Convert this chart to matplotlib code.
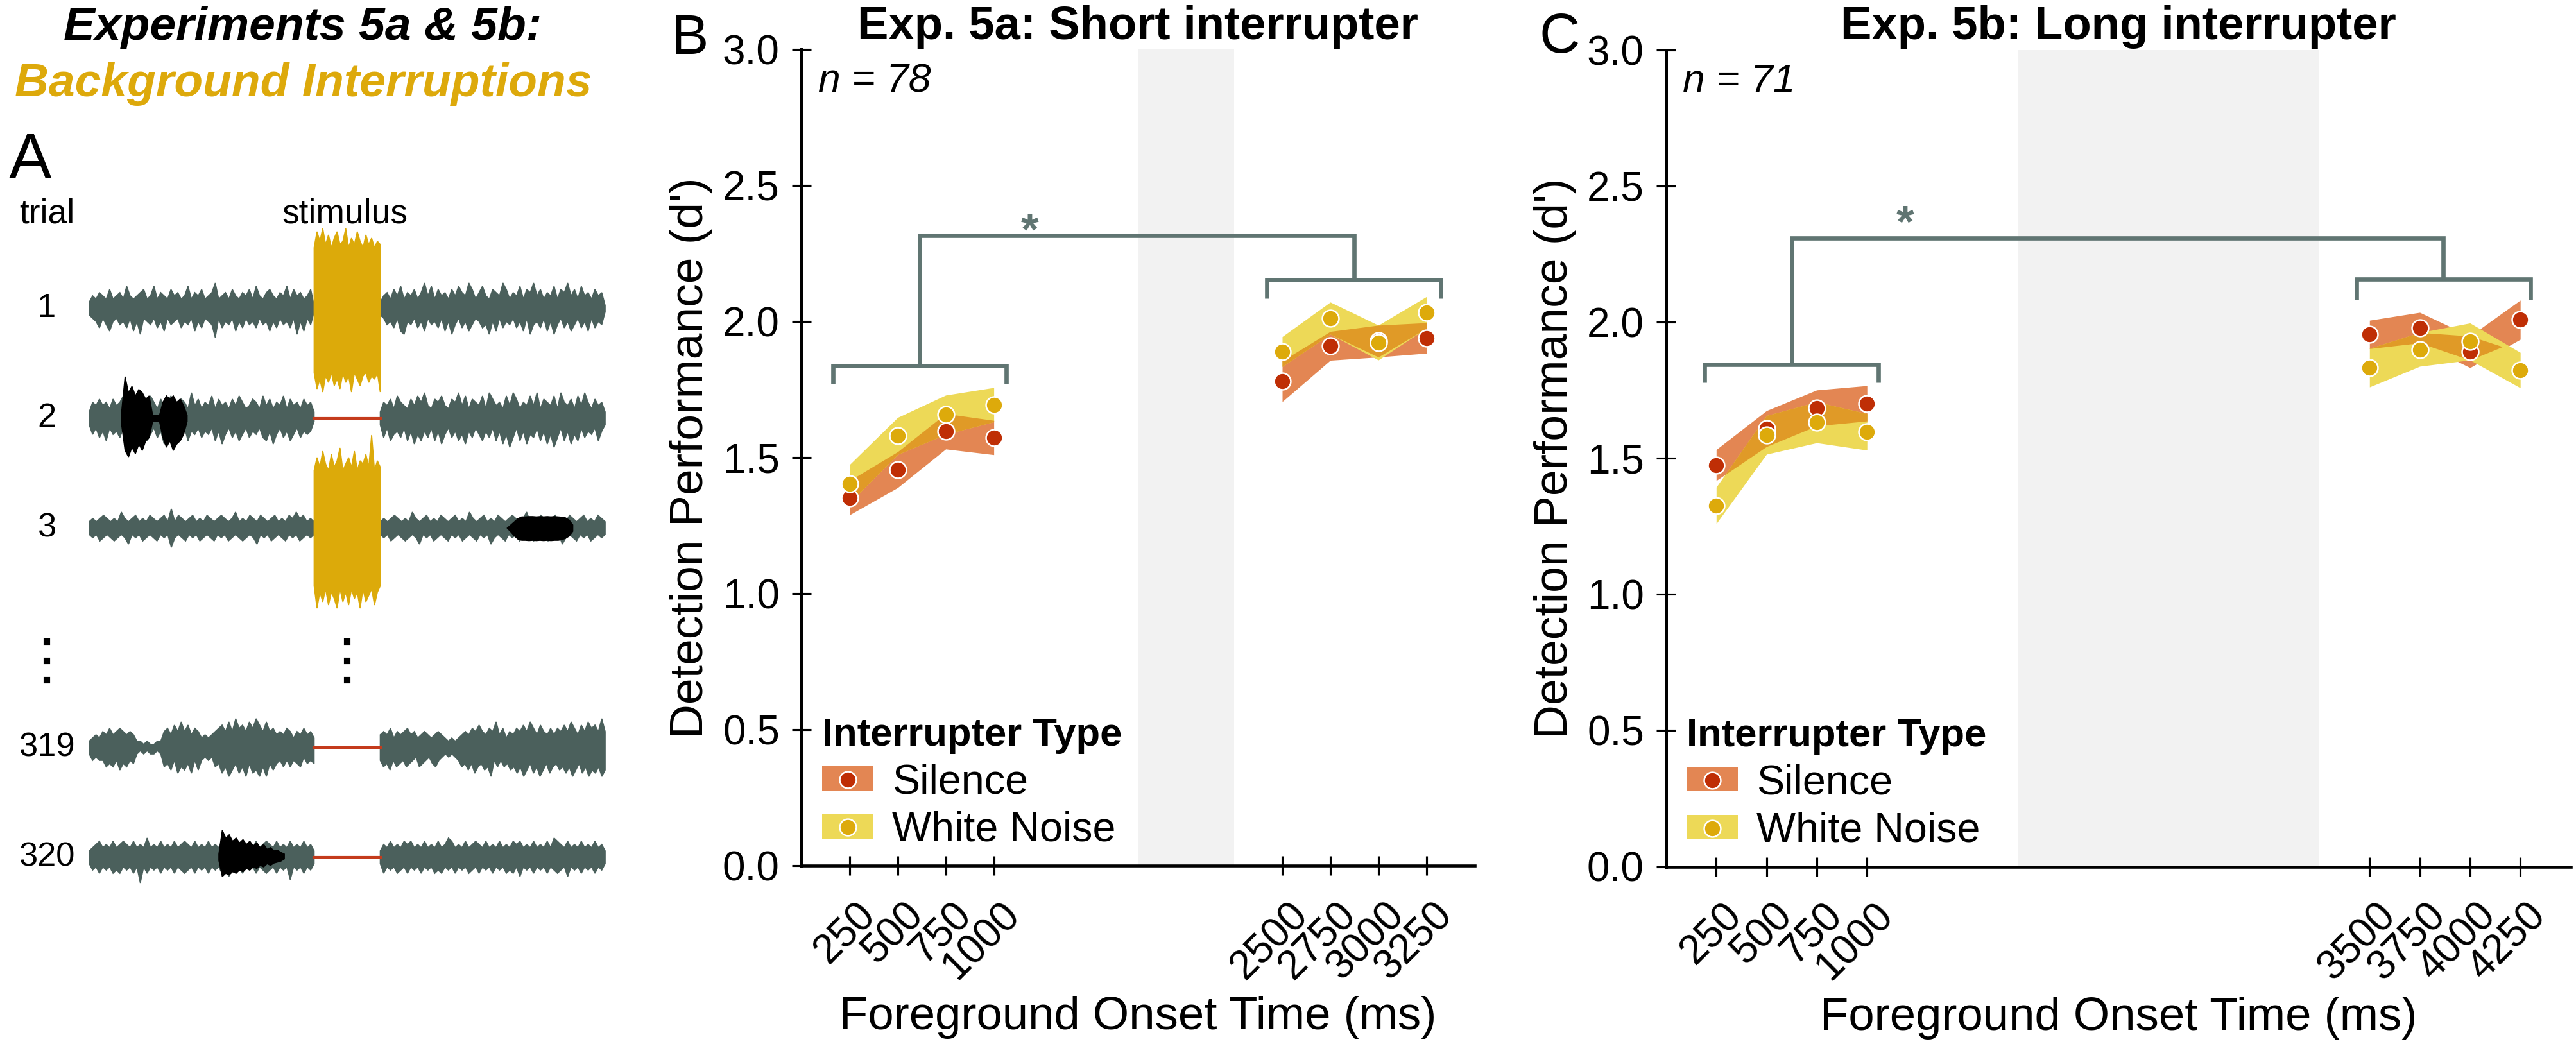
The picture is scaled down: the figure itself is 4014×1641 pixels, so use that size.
import matplotlib
matplotlib.use('Agg')
import matplotlib.pyplot as plt
import matplotlib.transforms as mtransforms
import numpy as np
from matplotlib.patches import Patch
from matplotlib.lines import Line2D
from matplotlib.legend_handler import HandlerTuple

plt.rcParams['font.family'] = ['Liberation Sans', 'DejaVu Sans']

W, H, DPI = 4014, 1641, 300

# ---------------- data: panels B and C ----------------
onsets_5a = [250, 500, 750, 1000, 2500, 2750, 3000, 3250]
onsets_5b = [250, 500, 750, 1000, 3500, 3750, 4000, 4250]
groups = [0, 0, 0, 0, 1, 1, 1, 1]

silence_5a = [1.353, 1.456, 1.597, 1.574, 1.781, 1.911, 1.930, 1.940]
silence_se_5a = [0.063, 0.066, 0.065, 0.063, 0.075, 0.053, 0.060, 0.056]
noise_5a = [1.405, 1.580, 1.658, 1.695, 1.890, 2.013, 1.923, 2.034]
noise_se_5a = [0.070, 0.068, 0.072, 0.063, 0.055, 0.059, 0.064, 0.058]

silence_5b = [1.475, 1.609, 1.685, 1.702, 1.955, 1.980, 1.891, 2.009]
silence_se_5b = [0.057, 0.066, 0.066, 0.065, 0.052, 0.056, 0.058, 0.072]
noise_5b = [1.327, 1.586, 1.632, 1.597, 1.833, 1.900, 1.929, 1.824]
noise_se_5b = [0.067, 0.071, 0.075, 0.067, 0.071, 0.062, 0.068, 0.065]

gap_5a = [1750, 2250]
gap_5b = [1750, 3250]

# bracket: left group start/end, right group start/end (ms)
brk_x_5a = [165, 1066, 2420, 3326]
brk_x_5b = [191, 1058, 3435, 4299]
# left tip, left bar, right tip, right bar, top bar (d')
brk_y_5a = [1.772, 1.839, 2.085, 2.153, 2.317]
brk_y_5b = [1.778, 1.845, 2.084, 2.158, 2.309]
star_5a = [1186, 2.325]
star_5b = [1190, 2.355]

# ---------------- data: panel A (schematic waveforms) ----------------
trial_labels = ['1', '2', '3', '319', '320']
trial_rows = [0, 1, 2, 4, 5]
trial_len, stim_on, stim_off = 7.8, 3.4, 4.4
has_stimulus = [True, False, True, False, False]

# background envelopes, one digit = 5 px of amplitude
bg_left_top = [
    "2435436345374345634735436453473546345834536435463743564354736453461",
    "2546453645736453647536457346538463547364536475346537463547364536452",
    "2323432325323423243234262432342324323432352324324323423243534232",
    "2343546456545422121122564758574653434567585967586975856454653546453",
    "2345343534543534363435343534543534353435453435343534543534353435342",
]
bg_left_bot = [
    "2346357435463748345364735436453746345936453746354635474635463847351",
    "2536473546374536475364873546374536453748536475364536748536475364541",
    "2324323432352324323423263234232432342324323432352324323423243232",
    "2434465647564521212212657486758474343658697586958796957546464563545",
    "2435343545343538353435343534543534353435463435343534543534373435342",
]
bg_right_top = [
    "2453647354635847364536475486357436548635473658463547365846374536451",
    "2546375436475843657436584736547386453748635474836547385463748536452",
    "2323432325323423243234232532342324323432352324323423243234232432",
    "4546354564534543454323234546575465846354657586475464657586475867595",
    "2435343545343534353465343534543534353435453435343536543534353435342",
]
bg_right_bot = [
    "2354637845364735463748536475346584736453647385463748536475364736451",
    "2637546374857463748536475846357463748596374856374859637485736453742",
    "2324323432352324323423243234232532342324323432342325323423243232",
    "4657465465436543564323234657586576946465768697586975865768697586978697",
    "2534354353435343545343534354353435343545363435343534543634353435342",
]

stim_top = [
    [19, 24, 21, 25, 20, 23, 19, 22, 24, 20, 21, 25, 19, 22, 20, 24, 21, 19, 23, 20, 22, 19, 21, 20],
    None,
    [18, 22, 19, 24, 20, 18, 23, 19, 21, 25, 18, 20, 22, 19, 24, 18, 21, 20, 23, 19, 29, 18, 21, 19],
    None, None,
]
stim_bot = [
    [20, 25, 22, 26, 21, 23, 20, 24, 22, 25, 20, 23, 21, 26, 20, 22, 24, 21, 20, 23, 21, 22, 20, 26],
    None,
    [18, 25, 20, 23, 19, 24, 20, 22, 25, 19, 23, 20, 24, 19, 22, 20, 25, 19, 23, 21, 19, 24, 20, 18],
    None, None,
]

# interrupter sounds (black): trial index, start, end (s), envelopes
intr_trial = [1, 2, 4]
intr_span = [[0.49, 1.48], [6.32, 7.31], [1.96, 2.95]]
intr_top = [
    [2, 13, 8, 10, 7, 9, 8, 6, 7, 1, 1, 1, 5, 7, 6, 7, 5, 6, 4, 1],
    [0, 1, 2, 3, 3.5, 3.5, 3.6, 3.6, 3.5, 3.6, 3.5, 3.6, 3.5, 3.6, 3.5, 3.4, 3.2, 2.5, 1],
    [1, 8.4, 6, 7, 5, 6, 4.5, 5.5, 4, 5, 3.5, 4.5, 3, 4, 2.5, 3, 2, 2.2, 1.5, 1],
]
intr_bot = [
    [2, 10, 12, 9, 11, 8, 10, 7, 6, 1, 1, 1, 6, 9, 7, 10, 8, 7, 5, 1],
    [0, 1.2, 2.5, 3.5, 3.8, 3.8, 3.9, 3.8, 3.9, 3.8, 3.9, 3.8, 3.9, 3.8, 3.8, 3.6, 3.2, 2.5, 1],
    [1, 6, 5, 5.5, 4.5, 5, 4, 4.5, 3.5, 4, 3, 3.5, 2.5, 3, 2, 2.5, 1.8, 1.5, 1.2, 0.5],
]

# colours
WAVE = '#4b605c'
STIM = '#dcaa0a'
GAP_LINE = '#c43b1c'
GOLD = '#dda90b'
SIL_PT, WN_PT = '#bf2e05', '#ddaa0b'
SIL_FILL, WN_FILL, BOTH_FILL = '#e38653', '#edd957', '#e09a27'
GAP_GREY = '#f2f2f2'
BRK = '#607572'

fig = plt.figure(figsize=(W / DPI, H / DPI), dpi=DPI)


def px_axes(left, top, right, bottom):
    return fig.add_axes([left / W, 1 - bottom / H, (right - left) / W, (bottom - top) / H])


# ---------------- panel A ----------------
axA = px_axes(0, 0, 1000, H)
px_per_s = (943 - 139) / trial_len
row_px, row0_px = 171.0, 481.0
axA.set_xlim(-139 / px_per_s, (1000 - 139) / px_per_s)
axA.set_ylim((H - row0_px) / row_px, -row0_px / row_px)
axA.axis('off')
unit = 5 / row_px


def envelope(ax, t0, t1, top, bot, row, color, z):
    top = np.asarray(top, float) * unit
    bot = np.asarray(bot, float) * unit
    tt = np.linspace(t0, t1, len(top))
    tb = np.linspace(t0, t1, len(bot))
    ax.fill(np.r_[tt, tb[::-1]], np.r_[row - top, (row + bot)[::-1]],
            color=color, lw=0.4, ec=color, zorder=z)


def digits(s):
    return [int(c) for c in s]


for i, row in enumerate(trial_rows):
    envelope(axA, 0, stim_on, digits(bg_left_top[i]), digits(bg_left_bot[i]), row, WAVE, 2)
    envelope(axA, stim_off, trial_len, digits(bg_right_top[i]), digits(bg_right_bot[i]), row, WAVE, 2)
    if has_stimulus[i]:
        envelope(axA, stim_on, stim_off, stim_top[i], stim_bot[i], row, STIM, 3)
    else:
        axA.plot([stim_on, stim_off], [row, row], color=GAP_LINE, lw=1.0, zorder=3)
    axA.text(-0.64, row, trial_labels[i], ha='center', va='center', fontsize=12.6)

for k, ti in enumerate(intr_trial):
    envelope(axA, intr_span[k][0], intr_span[k][1], intr_top[k], intr_bot[k],
             trial_rows[ti], 'black', 4)

dot_rows = [3.035, 3.21, 3.386]
axA.plot([-0.64] * 3, dot_rows, 's', ms=1.5, color='black')
axA.plot([(stim_on + stim_off) / 2] * 3, dot_rows, 's', ms=1.5, color='black')
axA.text(-0.64, -0.778, 'trial', ha='center', va='baseline', fontsize=12.8)
axA.text((stim_on + stim_off) / 2 - 0.03, -0.778, 'stimulus', ha='center', va='baseline', fontsize=12.8)

fig.text(472 / W, 1 - 62 / H, 'Experiments 5a & 5b:', ha='center', va='baseline',
         fontsize=17.6, fontweight='bold', style='italic')
fig.text(473 / W, 1 - 150 / H, 'Background Interruptions', ha='center', va='baseline',
         fontsize=17.6, fontweight='bold', style='italic', color=GOLD)
fig.text(14 / W, 1 - 278 / H, 'A', ha='left', va='baseline', fontsize=24)


# ---------------- panels B and C ----------------
def draw_panel(ax, onsets, sil, sil_se, wn, wn_se, gap, xmax, brk_x, brk_y, star, title, n_label):
    onsets = np.array(onsets)
    g = np.array(groups)
    sil, sil_se, wn, wn_se = map(np.array, (sil, sil_se, wn, wn_se))
    ax.axvspan(gap[0], gap[1], color=GAP_GREY, lw=0, zorder=0)
    for gi in np.unique(g):
        m = g == gi
        x = onsets[m]
        s_lo, s_hi = sil[m] - sil_se[m], sil[m] + sil_se[m]
        w_lo, w_hi = wn[m] - wn_se[m], wn[m] + wn_se[m]
        ax.fill_between(x, s_lo, s_hi, color=SIL_FILL, lw=0, zorder=2)
        ax.fill_between(x, w_lo, w_hi, color=WN_FILL, lw=0, zorder=2)
        lo, hi = np.maximum(s_lo, w_lo), np.minimum(s_hi, w_hi)
        ax.fill_between(x, lo, hi, where=hi > lo, interpolate=True, color=BOTH_FILL, lw=0, zorder=3)
    ax.plot(onsets, sil, 'o', ms=6.2, mfc=SIL_PT, mec='white', mew=0.6, zorder=4)
    ax.plot(onsets, wn, 'o', ms=6.2, mfc=WN_PT, mec='white', mew=0.6, zorder=5)

    # significance bracket
    kw = dict(color=BRK, lw=1.6, solid_capstyle='butt', solid_joinstyle='miter', clip_on=False, zorder=6)
    ax.plot([brk_x[0], brk_x[0], brk_x[1], brk_x[1]], [brk_y[0], brk_y[1], brk_y[1], brk_y[0]], **kw)
    ax.plot([brk_x[2], brk_x[2], brk_x[3], brk_x[3]], [brk_y[2], brk_y[3], brk_y[3], brk_y[2]], **kw)
    cl, cr = (brk_x[0] + brk_x[1]) / 2, (brk_x[2] + brk_x[3]) / 2
    ax.plot([cl, cl, cr, cr], [brk_y[1], brk_y[4], brk_y[4], brk_y[3]], **kw)
    ax.text(star[0], star[1], '*', ha='center', va='center', fontsize=17, fontweight='bold', color=BRK)

    ax.set_xlim(0, xmax)
    ax.set_ylim(0, 3.0)
    ax.set_xticks(onsets)
    ax.set_xticklabels([str(v) for v in onsets])
    ax.set_yticks(np.arange(0, 3.01, 0.5))
    ax.set_yticklabels(['%.1f' % v for v in np.arange(0, 3.01, 0.5)])
    for s in ['top', 'right']:
        ax.spines[s].set_visible(False)
    ax.spines['left'].set_linewidth(1.2)
    ax.spines['bottom'].set_linewidth(1.1)
    ax.tick_params(axis='both', direction='inout', length=7, width=0.75, labelsize=15.3, color='black')
    ax.tick_params(axis='y', pad=4.7)
    ax.tick_params(axis='x', pad=7.5)
    shift = mtransforms.ScaledTranslation(9.5 / DPI, 0, fig.dpi_scale_trans)
    for lab in ax.get_xticklabels():
        lab.set_rotation(45)
        lab.set_ha('right')
        lab.set_va('top')
        lab.set_rotation_mode('anchor')
        lab.set_transform(lab.get_transform() + shift)

    aw = ax.get_position().width * W
    ah = ax.get_position().height * H
    ax.set_ylabel("Detection Performance (d')", fontsize=17.6)
    ax.yaxis.set_label_coords(-139 / aw, 0.5)
    ax.set_xlabel('Foreground Onset Time (ms)', fontsize=17.4)
    ax.xaxis.set_label_coords(0.5, -203 / ah)
    ax.set_title(title, fontsize=17.4, fontweight='bold', pad=4)
    ax.text(26 / aw, 2.845, n_label, transform=mtransforms.blended_transform_factory(ax.transAxes, ax.transData),
            style='italic', fontsize=15, va='baseline', ha='left')

    handles = [
        (Patch(fc=SIL_FILL, ec='none'),
         Line2D([], [], ls='none', marker='o', ms=6.2, mfc=SIL_PT, mec='white', mew=0.6)),
        (Patch(fc=WN_FILL, ec='none'),
         Line2D([], [], ls='none', marker='o', ms=6.2, mfc=WN_PT, mec='white', mew=0.6)),
    ]
    ax.legend(handles, ['Silence', 'White Noise'], title='Interrupter Type',
              handler_map={tuple: HandlerTuple(ndivide=1)}, frameon=False,
              loc='lower left', bbox_to_anchor=(32 / aw, 26 / ah), borderpad=0, borderaxespad=0,
              handlelength=1.24, handleheight=0.53, handletextpad=0.45, labelspacing=0.22,
              fontsize=15.5, title_fontproperties={'weight': 'bold', 'size': 14.8}, alignment='left')


axB = px_axes(1249, 77.3, 2297.6, 1349.4)
axC = px_axes(2596, 78, 4005.5, 1350.5)
draw_panel(axB, onsets_5a, silence_5a, silence_se_5a, noise_5a, noise_se_5a, gap_5a, 3500,
           brk_x_5a, brk_y_5a, star_5a, 'Exp. 5a: Short interrupter', 'n = 78')
draw_panel(axC, onsets_5b, silence_5b, silence_se_5b, noise_5b, noise_se_5b, gap_5b, 4500,
           brk_x_5b, brk_y_5b, star_5b, 'Exp. 5b: Long interrupter', 'n = 71')

fig.text(1104 / W, 1 - 84 / H, 'B', ha='right', va='baseline', fontsize=21)
fig.text(2462 / W, 1 - 82 / H, 'C', ha='right', va='baseline', fontsize=21)

fig.savefig('out.png', dpi=DPI)
